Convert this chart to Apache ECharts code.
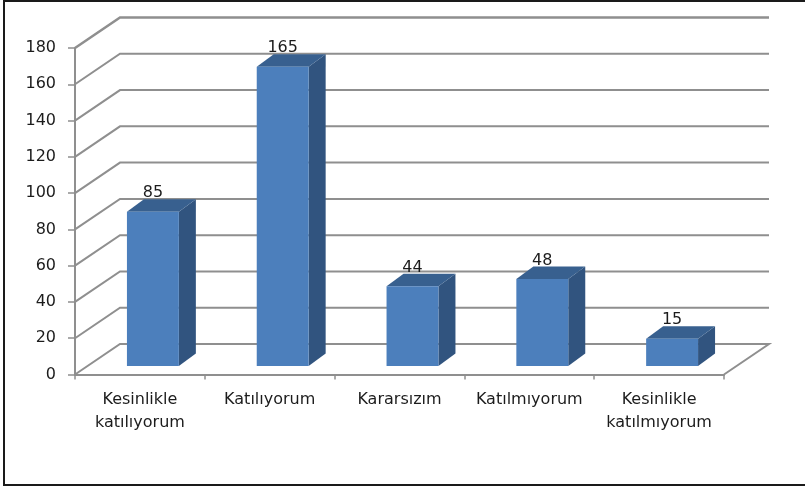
<!DOCTYPE html>
<html>
<head>
<meta charset="utf-8">
<style>html,body{margin:0;padding:0;background:#fff}#c{width:805px;height:488px}</style>
<script src="https://cdn.jsdelivr.net/npm/echarts@6/dist/echarts.min.js"></script>
</head>
<body>
<div id="c"></div>
<script>
const categories = ['Kesinlikle\nkatılıyorum', 'Katılıyorum', 'Kararsızım', 'Katılmıyorum', 'Kesinlikle\nkatılmıyorum'];
const values = [85, 165, 44, 48, 15];
const yTicks = [0, 20, 40, 60, 80, 100, 120, 140, 160, 180];

const FONT = '"DejaVu Sans", sans-serif';
const TEXT = '#1c1c1c';
const GRID = '#8f8f8f';
const WALL_DX = 45, WALL_DY = -30.5;
const BAR_OFF_X = 13, BAR_OFF_Y = -8.5;
const BAR_DX = 17, BAR_DY = -12.5;

const chart = echarts.init(document.getElementById('c'), null, {renderer: 'canvas'});
chart.setOption({
  animation: false,
  backgroundColor: '#ffffff',
  grid: {left: 75, top: 48, width: 649, height: 326.5},
  xAxis: {
    type: 'category',
    data: categories,
    axisLine: {lineStyle: {color: GRID, width: 2}},
    axisTick: {show: true, length: 5, lineStyle: {color: GRID, width: 1.5}},
    axisLabel: {color: TEXT, fontFamily: FONT, fontSize: 16, lineHeight: 23, margin: 14, interval: 0}
  },
  yAxis: {
    type: 'value', min: 0, max: 180, interval: 20,
    axisLine: {show: true, lineStyle: {color: GRID, width: 2}},
    axisTick: {show: true, length: 7, lineStyle: {color: GRID, width: 1.5}},
    axisLabel: {color: TEXT, fontFamily: FONT, fontSize: 16, margin: 19, padding: [8, 0, 0, 0]},
    splitLine: {show: false}
  },
  graphic: [{
    type: 'polyline', silent: true, z: 100,
    shape: {points: [[805, 1], [4, 1], [4, 485], [805, 485]]},
    style: {stroke: '#1a1a1a', lineWidth: 2, fill: null}
  }],
  series: [
    {
      type: 'custom', name: 'walls', coordinateSystem: 'cartesian2d', z: 1, silent: true,
      data: yTicks.map(v => [0, v]),
      renderItem(params, api) {
        const cs = params.coordSys;
        const v = api.value(1);
        const y = api.coord([0, v])[1];
        const pts = [[cs.x, y], [cs.x + WALL_DX, y + WALL_DY], [cs.x + cs.width + WALL_DX, y + WALL_DY]];
        if (v === 0) pts.push([cs.x + cs.width, y]);
        return {type: 'polyline', shape: {points: pts},
          style: {stroke: GRID, lineWidth: v === 180 ? 2.5 : 2, fill: null}};
      }
    },
    {
      type: 'custom', name: 'Değer', coordinateSystem: 'cartesian2d', z: 5,
      data: values.map((v, i) => [i, v]),
      renderItem(params, api) {
        const top = api.coord([api.value(0), api.value(1)]);
        const base = api.coord([api.value(0), 0]);
        const w = api.size([1, 0])[0] * 0.4;
        const l = top[0] - w / 2 + BAR_OFF_X, r = l + w;
        const t = top[1] + BAR_OFF_Y, b = base[1] + BAR_OFF_Y;
        return {type: 'group', children: [
          {type: 'polygon', shape: {points: [[r, t], [r + BAR_DX, t + BAR_DY], [r + BAR_DX, b + BAR_DY], [r, b]]},
            style: {fill: '#31547f'}},
          {type: 'polygon', shape: {points: [[l, t], [l + BAR_DX, t + BAR_DY], [r + BAR_DX, t + BAR_DY], [r, t]]},
            style: {fill: '#38608f'}},
          {type: 'rect', shape: {x: l, y: t, width: w, height: b - t},
            style: {fill: '#4c7fbc'}},
          {type: 'text', z2: 10, style: {text: String(api.value(1)), x: (l + r) / 2, y: t + BAR_DY - 6,
            align: 'center', verticalAlign: 'middle', fill: TEXT, font: '16px ' + FONT}}
        ]};
      }
    }
  ]
});
</script>
</body>
</html>
